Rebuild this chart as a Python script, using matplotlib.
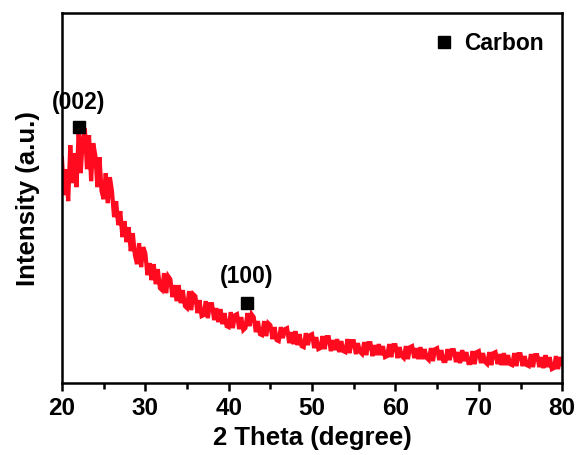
import numpy as np
import matplotlib.pyplot as plt

plt.rcParams['font.family'] = ['Liberation Sans', 'DejaVu Sans']
plt.rcParams['font.weight'] = 'bold'

# 2 theta grid, 0.25 degree step (arbitrary units)
two_theta = np.arange(20, 80.001, 0.25)

intensity = [
    225, 188, 214, 182,   # 20
    238, 200, 230, 196,   # 21
    252, 210, 244, 255,   # 22
    214, 248, 202, 240,   # 23
    228, 196, 226, 192,   # 24
    184, 210, 180, 206,   # 25
    192, 166, 182, 158,   # 26
    172, 146, 162, 141,   # 27
    156, 132, 150, 128,   # 28
    119, 140, 116, 136,   # 29
    130, 108, 120, 103,   # 30
    119, 99, 114, 95,     # 31
    93, 110, 90, 107,     # 32
    104, 86, 98, 82,      # 33
    98, 80, 93, 77,       # 34
    75, 92, 73, 89,       # 35
    87, 70, 83, 67,       # 36
    68, 82, 65, 79,       # 37
    79, 63, 75, 61,       # 38
    74, 59, 70, 57,       # 39
    56, 71, 55, 68,       # 40
    69, 54, 66, 53,       # 41
    55, 70, 57, 69,       # 42
    66, 51, 62, 49,       # 43
    48, 62, 47, 60,       # 44
    58, 44, 56, 43,       # 45
    42, 56, 45, 54,       # 46
    55, 40, 51, 39,       # 47
    52, 38, 49, 37,       # 48
    36, 50, 38, 48,       # 49
    49, 35, 46, 34,       # 50
    35, 47, 34, 46,       # 51
    46, 32, 43, 33,       # 52
    44, 31, 42, 32,       # 53
    31, 44, 30, 42,       # 54
    42, 29, 40, 31,       # 55
    29, 41, 28, 40,       # 56
    40, 27, 38, 28,       # 57
    39, 28, 37, 26,       # 58
    27, 39, 26, 38,       # 59
    38, 25, 36, 27,       # 60
    25, 37, 24, 36,       # 61
    37, 25, 35, 24,       # 62
    36, 24, 34, 25,       # 63
    23, 35, 22, 34,       # 64
    35, 23, 33, 22,       # 65
    22, 34, 23, 33,       # 66
    33, 21, 31, 20,       # 67
    33, 22, 31, 20,       # 68
    20, 32, 19, 31,       # 69
    32, 20, 30, 21,       # 70
    19, 31, 18, 30,       # 71
    31, 19, 29, 18,       # 72
    30, 18, 28, 19,       # 73
    18, 30, 17, 29,       # 74
    29, 17, 27, 18,       # 75
    17, 29, 16, 28,       # 76
    28, 16, 26, 15,       # 77
    28, 16, 26, 14,       # 78
    15, 27, 14, 26,       # 79
    19,                   # 80
]

peak_pos = [22.0, 42.2]
peak_marker_y = [256, 80]
peak_labels = ['(002)', '(100)']
peak_label_y = [281, 107]

fig = plt.figure(figsize=(5.79, 4.55), dpi=100)
ax = fig.add_axes([0.107, 0.158, 0.864, 0.813])

ax.plot(two_theta, intensity, color='#ff0a1e', lw=3.0, solid_joinstyle='miter')

ax.plot(peak_pos, peak_marker_y, 's', color='black', ms=8, ls='none', label='Carbon')
for xp, yl, lab in zip(peak_pos, peak_label_y, peak_labels):
    ax.text(xp, yl, lab, ha='center', va='center', fontsize=16.5, fontweight='bold')

leg = ax.legend(loc='upper right', frameon=False, fontsize=16.5, handletextpad=0.5,
                borderaxespad=0.4, handlelength=0.8)

ax.set_xlim(20, 80)
ax.set_ylim(0, 370)
ax.set_xticks(np.arange(20, 81, 10))
ax.set_xticks(np.arange(25, 80, 10), minor=True)
ax.set_yticks([])
ax.tick_params(axis='x', which='major', direction='out', length=6, width=1.8, labelsize=17.5, pad=4)
ax.tick_params(axis='x', which='minor', direction='out', length=4, width=1.8)
for s in ax.spines.values():
    s.set_linewidth(1.8)

ax.set_xlabel('2 Theta (degree)', fontsize=18.5, fontweight='bold', labelpad=4)
ax.set_ylabel('Intensity (a.u.)', fontsize=18.5, fontweight='bold', labelpad=16)

fig.savefig('out.png', dpi=100)
